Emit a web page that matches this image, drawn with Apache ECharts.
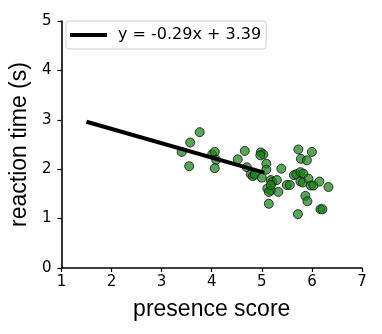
<!DOCTYPE html>
<html>
<head>
<meta charset="utf-8">
<script src="https://cdn.jsdelivr.net/npm/echarts@6/dist/echarts.min.js"></script>
<style>
  html, body { margin: 0; padding: 0; background: #fff; }
</style>
</head>
<body>
<div id="chart" style="width:382px;height:334px"></div>
<script>
// presence score vs reaction time
const presence = [3.40, 3.55, 3.57, 3.76, 4.01, 4.06, 4.09, 4.06, 4.52, 4.66,
  4.70, 4.78, 4.82, 4.86, 4.98, 5.03, 4.97, 5.09, 5.09, 5.00,
  5.39, 5.18, 5.21, 5.30, 5.11, 5.18, 5.14, 5.33, 5.14, 5.50,
  5.56, 5.64, 5.69, 5.73, 5.78, 5.90, 6.00, 5.77, 5.83, 5.77,
  5.82, 5.93, 5.98, 6.03, 6.15, 6.33, 5.87, 5.91, 5.72, 6.17,
  6.21, 5.18]
const reaction = [2.35, 2.06, 2.54, 2.75, 2.30, 2.35, 2.19, 2.02, 2.20, 2.37,
  2.04, 1.90, 1.86, 1.89, 2.34, 2.30, 2.28, 2.11, 1.99, 1.83,
  2.01, 1.78, 1.74, 1.78, 1.61, 1.57, 1.54, 1.54, 1.30, 1.68,
  1.68, 1.88, 1.90, 2.40, 2.21, 2.18, 2.35, 1.94, 1.91, 1.75,
  1.73, 1.81, 1.67, 1.67, 1.75, 1.64, 1.46, 1.35, 1.09, 1.19,
  1.19, 1.68]
// fitted line ends
const fitX = [1.5, 5.05]
const fitY = [2.96, 1.93]
const fitLabel = 'y = -0.29x + 3.39'
const xTicks = [1, 7]
const yTicks = [0, 5]

const chart = echarts.init(document.getElementById('chart'))

const tickFont = {color: '#000', fontFamily: 'DejaVu Sans', fontSize: 15}
const nameFont = {color: '#000', fontFamily: 'Liberation Sans', fontSize: 23}
const axisLine = {show: true, lineStyle: {color: '#000', width: 1.6}}

chart.setOption({
  animation: false,
  grid: {left: 58, right: 20, top: 21, bottom: 66},
  legend: {
    left: 66,
    top: 21,
    data: [fitLabel],
    icon: 'rect',
    itemWidth: 37,
    itemHeight: 4,
    padding: [6, 5, 6, 4],
    borderColor: '#d0d0d0',
    borderWidth: 1,
    borderRadius: 3,
    backgroundColor: '#fff',
    textStyle: {color: '#000', fontFamily: 'DejaVu Sans', fontSize: 16, padding: [0, 0, 0, 6]}
  },
  xAxis: {
    type: 'value',
    min: xTicks[0],
    max: xTicks[1],
    interval: 1,
    name: 'presence score',
    nameLocation: 'middle',
    nameGap: 30,
    nameTextStyle: nameFont,
    axisLine: axisLine,
    axisTick: {show: true, length: 4, lineStyle: {color: '#000', width: 1.2}},
    axisLabel: Object.assign({margin: 7}, tickFont),
    splitLine: {show: false}
  },
  yAxis: {
    type: 'value',
    min: yTicks[0],
    max: yTicks[1],
    interval: 1,
    name: 'reaction time (s)',
    nameLocation: 'middle',
    nameGap: 29,
    nameTextStyle: nameFont,
    axisLine: axisLine,
    axisTick: {show: true, length: 4, lineStyle: {color: '#000', width: 1.2}},
    axisLabel: Object.assign({margin: 10}, tickFont),
    splitLine: {show: false}
  },
  series: [
    {
      type: 'scatter',
      name: 'data',
      symbolSize: 9,
      itemStyle: {color: 'rgba(22,132,22,0.9)', borderColor: '#111', borderWidth: 1},
      data: presence.map((x, i) => [x, reaction[i]]),
      z: 2
    },
    {
      type: 'line',
      name: fitLabel,
      showSymbol: false,
      lineStyle: {color: '#000', width: 4},
      itemStyle: {color: '#000'},
      data: fitX.map((x, i) => [x, fitY[i]]),
      z: 3
    }
  ]
})
</script>
</body>
</html>
